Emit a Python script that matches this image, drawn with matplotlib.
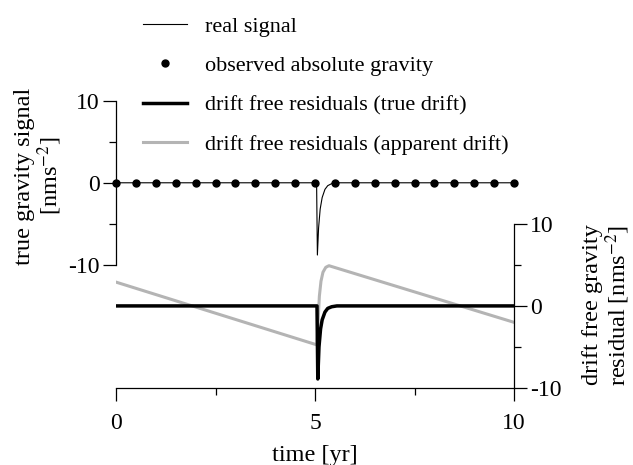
import numpy as np
import matplotlib
matplotlib.use('Agg')
import matplotlib.pyplot as plt

plt.rcParams['font.family'] = ['Liberation Serif', 'DejaVu Serif']
plt.rcParams['mathtext.fontset'] = 'stix'
plt.rcParams['axes.unicode_minus'] = False

#
# Data
#
# real signal (left axis), nms^-2
signal_t = [0.0, 5.04, 5.06, 5.09, 5.13, 5.18, 5.25, 5.32, 5.42, 5.55, 10.0]
signal_g = [0.0, 0.0, -8.8, -5.5, -3.2, -1.8, -0.8, -0.35, -0.1, 0.0, 0.0]

# observed absolute gravity, every half year
obs_t = [0.0, 0.5, 1.0, 1.5, 2.0, 2.5, 3.0, 3.5, 4.0, 4.5, 5.0,
         5.5, 6.0, 6.5, 7.0, 7.5, 8.0, 8.5, 9.0, 9.5, 10.0]
obs_g = [0.0] * len(obs_t)

# drift free residuals, true drift (right axis)
true_t = [0.0, 5.05, 5.07, 5.1, 5.14, 5.18, 5.25, 5.32, 5.42, 5.55, 10.0]
true_r = [0.0, 0.0, -8.9, -5.0, -2.8, -1.7, -0.75, -0.3, -0.1, 0.0, 0.0]

# drift free residuals, apparent drift (right axis)
app_t = [0.0, 5.05, 5.08, 5.11, 5.15, 5.2, 5.27, 5.35, 10.0]
app_r = [2.9, -4.75, -1.6, 1.2, 3.0, 4.1, 4.7, 4.9, -2.0]

#
# Figure
#
fig = plt.figure(figsize=(6.33, 4.65), dpi=100)
ax = fig.add_axes([116/633, 77/465, 398/633, 287.3/465])
ax2 = ax.twinx()

ax.set_xlim(0, 10)
ax.set_ylim(-25, 10)
ax2.set_ylim(-10, 25)

# spines
for s in ['top', 'right']:
    ax.spines[s].set_visible(False)
for s in ['top', 'left', 'bottom']:
    ax2.spines[s].set_visible(False)
ax.spines['left'].set_bounds(-10, 10)
ax2.spines['right'].set_bounds(-10, 10)
for a in (ax, ax2):
    for s in a.spines.values():
        s.set_linewidth(0.9)

# ticks
ax.set_xticks([0, 5, 10])
ax.set_xticks([2.5, 7.5], minor=True)
ax.set_yticks([-10, 0, 10])
ax.set_yticks([-5, 5], minor=True)
ax2.set_yticks([-10, 0, 10])
ax2.set_yticks([-5, 5], minor=True)
for a in (ax, ax2):
    a.tick_params(which='major', direction='out', length=9.5, width=0.9, labelsize=17, pad=2)
    a.tick_params(which='minor', direction='out', length=5, width=0.9)
ax.tick_params(axis='x', pad=8.5)

# plotting
l1, = ax.plot(signal_t, signal_g, color='black', lw=0.8, label='real signal')
l2, = ax.plot(obs_t, obs_g, 'o', color='black', ms=5, clip_on=False,
              label='observed absolute gravity')
l4, = ax2.plot(app_t, app_r, color='#b4b4b4', lw=2.2,
               label='drift free residuals (apparent drift)')
l3, = ax2.plot(true_t, true_r, color='black', lw=2.5,
               label='drift free residuals (true drift)')

# labels
ax.set_xlabel('time [yr]', fontsize=17.5, labelpad=8)
fig.text(39/633, 1 - 176/465, 'true gravity signal\n[nms$^{-2}$]', rotation=90,
         ha='center', va='center', fontsize=17.5, linespacing=1.05)
fig.text(607/633, 1 - 305/465, 'drift free gravity\nresidual [nms$^{-2}$]', rotation=90,
         ha='center', va='center', fontsize=17.5, linespacing=1.05)

ax2.legend(handles=[l1, l2, l3, l4], loc='upper left',
           bbox_to_anchor=(143/633, 1 - 16/465), bbox_transform=fig.transFigure,
           frameon=False, fontsize=16, numpoints=1, handlelength=2.0,
           handletextpad=0.8, labelspacing=0.85, borderpad=0, borderaxespad=0)

fig.savefig('out.png', dpi=100)
